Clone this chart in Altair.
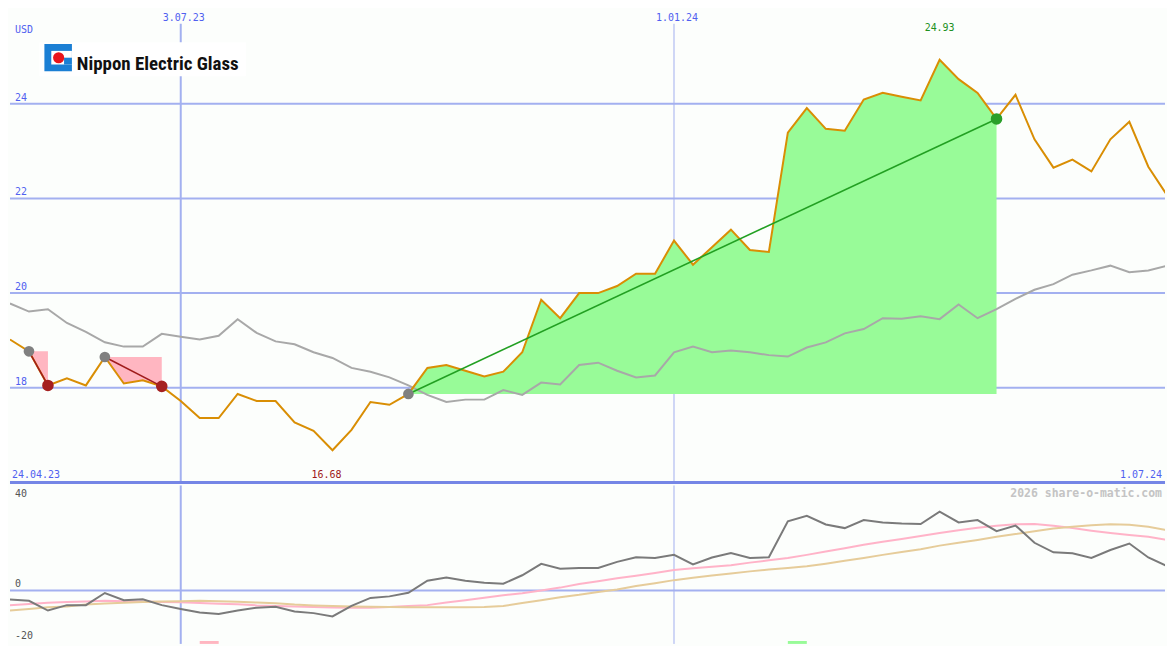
import altair as alt
import pandas as pd

# ---------------- data (weekly, Mondays from 1.05.23) ----------------
weeks = list(range(62))
price = [19.02, 18.77, 18.05, 18.20, 18.05, 18.65, 18.09, 18.16, 18.03, 17.72,
         17.36, 17.36, 17.87, 17.72, 17.72, 17.27, 17.09, 16.68, 17.11, 17.70,
         17.64, 17.87, 18.42, 18.48, 18.36, 18.24, 18.34, 18.75, 19.86, 19.47,
         20.00, 20.00, 20.15, 20.41, 20.41, 21.11, 20.60, 20.97, 21.34, 20.91,
         20.87, 23.39, 23.91, 23.47, 23.43, 24.09, 24.23, 24.15, 24.07, 24.93,
         24.52, 24.23, 23.68, 24.19, 23.25, 22.65, 22.82, 22.57, 23.25, 23.62,
         22.67, 22.06]
avg = [19.78, 19.61, 19.66, 19.37, 19.18, 18.96, 18.87, 18.87, 19.14, 19.08,
       19.02, 19.10, 19.45, 19.16, 18.98, 18.92, 18.75, 18.63, 18.42, 18.34,
       18.22, 18.05, 17.85, 17.70, 17.75, 17.75, 17.95, 17.85, 18.11, 18.07,
       18.48, 18.53, 18.36, 18.22, 18.26, 18.75, 18.87, 18.75, 18.79, 18.75,
       18.69, 18.66, 18.85, 18.96, 19.15, 19.24, 19.47, 19.46, 19.51, 19.45,
       19.76, 19.47, 19.66, 19.88, 20.07, 20.19, 20.39, 20.48, 20.58, 20.44,
       20.48, 20.58]
momentum = [-3.5, -4.0, -7.8, -5.7, -5.7, -1.0, -3.8, -3.4, -5.7, -7.2,
            -8.6, -9.1, -7.8, -6.7, -6.3, -8.2, -8.8, -10.1, -6.0, -2.9,
            -2.3, -0.9, 3.8, 5.0, 3.8, 3.0, 2.6, 5.9, 10.3, 8.4,
            8.7, 8.7, 11.1, 12.9, 12.6, 13.8, 10.1, 12.8, 14.5, 12.6,
            12.9, 26.8, 29.0, 25.6, 24.2, 27.3, 26.4, 26.0, 25.8, 30.6,
            26.4, 27.3, 23.0, 25.2, 18.5, 14.8, 14.4, 12.6, 15.7, 18.2,
            12.8, 9.4]
signal_fast = [-5.7, -5.3, -4.8, -4.5, -4.3, -4.0, -4.2, -4.3, -4.5, -4.6,
               -4.9, -5.2, -5.4, -5.8, -6.0, -6.2, -6.4, -6.6, -6.7, -6.7,
               -6.4, -6.0, -5.7, -4.7, -3.8, -2.8, -1.9, -1.1, 0.0, 1.1,
               2.5, 3.6, 4.7, 5.7, 6.8, 7.9, 8.6, 9.2, 9.8, 10.8,
               11.7, 12.6, 13.8, 15.1, 16.4, 17.7, 18.9, 20.0, 21.1, 22.3,
               23.4, 24.3, 25.1, 25.7, 25.8, 25.1, 24.2, 23.2, 22.3, 21.5,
               20.8, 19.6]
signal_slow = [-7.8, -7.2, -6.5, -6.2, -5.5, -5.1, -4.8, -4.5, -4.3, -4.2,
               -4.0, -4.2, -4.4, -4.7, -5.0, -5.5, -5.8, -6.0, -6.2, -6.3,
               -6.4, -6.5, -6.5, -6.5, -6.5, -6.4, -6.0, -4.9, -3.8, -2.6,
               -1.7, -0.6, 0.4, 1.7, 2.8, 4.0, 4.9, 5.8, 6.6, 7.4,
               8.1, 8.7, 9.4, 10.4, 11.5, 12.6, 13.8, 14.9, 16.0, 17.4,
               18.5, 19.6, 20.8, 21.9, 23.0, 24.0, 24.7, 25.3, 25.7, 25.5,
               24.7, 23.4]

trade_kind = ["loss", "loss", "gain"]
trade_entry = [1, 5, 21]
trade_exit = [2, 8, 52]

marker_kind = ["loss", "gain"]
marker_week = [10, 41]

date_labels = ["3.07.23", "1.01.24"]
date_weeks = [9, 35]
date_widths = [2, 1]
first_date = "24.04.23"
last_date = "1.07.24"
price_grid = [18, 20, 22, 24]
low_label = "16.68"
high_label = "24.93"
low_week = 17
high_week = 49

# ---------------- styles ----------------
FILL = {"loss": "#ffb6c1", "gain": "#98fb98"}
TRADE_LINE = {"loss": "#a01c1c", "gain": "#22a022"}
EXIT_DOT = {"loss": "#a52020", "gain": "#2a9f2a"}

W = 1159
SX = 1159 / 1175
SY = 634 / 650
H_TOP = 475
H_BOT = 159
X_MAX = 60.88
BG = "#fcfefc"
GRID = "#a3b0f0"
BORDER = "#7586e6"
LABEL = "#5060f0"
MONO = "DejaVu Sans Mono"

xs = alt.Scale(domain=[0, X_MAX], nice=False, zero=False)
ys_top = alt.Scale(domain=[16, 26], nice=False, zero=False)
ys_bot = alt.Scale(domain=[-20.75, 40.75], nice=False, zero=False)

X = lambda f="week": alt.X(f"{f}:Q", scale=xs, axis=None)
YT = lambda f: alt.Y(f"{f}:Q", scale=ys_top, axis=None)
YB = lambda f: alt.Y(f"{f}:Q", scale=ys_bot, axis=None)
C = lambda f: alt.Color(f"{f}:N", scale=None, legend=None)

df = pd.DataFrame({"week": weeks, "price": price, "avg": avg, "mom": momentum,
                   "fast": signal_fast, "slow": signal_slow})

area_rows, tl_rows, entry_rows, exit_rows = [], [], [], []
for t, (k, e, x) in enumerate(zip(trade_kind, trade_entry, trade_exit)):
    for w in range(e, x + 1):
        area_rows.append({"trade": t, "fill": FILL[k], "week": w, "price": price[w], "base": price[e]})
    tl_rows.append({"trade": t, "col": TRADE_LINE[k], "week": e, "price": price[e]})
    tl_rows.append({"trade": t, "col": TRADE_LINE[k], "week": x, "price": price[x]})
    entry_rows.append({"week": e, "price": price[e]})
    exit_rows.append({"col": EXIT_DOT[k], "week": x, "price": price[x]})
areas = pd.DataFrame(area_rows)
tlines = pd.DataFrame(tl_rows)
entries = pd.DataFrame(entry_rows)
exits = pd.DataFrame(exit_rows)
vlines = pd.DataFrame({"week": date_weeks, "w": date_widths, "label": date_labels})
grid = pd.DataFrame({"v": price_grid, "label": [str(v) for v in price_grid]})
one = pd.DataFrame({"a": [0]})

# ---------------- upper panel ----------------
grid_rules = alt.Chart(grid).mark_rule(color=GRID, strokeWidth=2).encode(y=YT("v"))
v_rules = alt.Chart(vlines).transform_calculate(y1="25.69", y2="16").mark_rule(color=GRID).encode(
    x=X(), y=YT("y1"), y2="y2:Q", strokeWidth=alt.StrokeWidth("w:Q", scale=None))
border = alt.Chart(one).mark_rule(color=BORDER, strokeWidth=3).encode(
    y=alt.value(H_TOP), x=alt.value(0), x2=alt.value(W))
logo_box = alt.Chart(one).mark_rect(color="#ffffff").encode(
    x=alt.value(30 * SX), x2=alt.value(240 * SX), y=alt.value(34 * SY), y2=alt.value(69 * SY))
logo_blue = alt.Chart(one).mark_rect(color="#1b7fd4").encode(
    x=alt.value(35 * SX), x2=alt.value(63 * SX), y=alt.value(36 * SY), y2=alt.value(64 * SY))
logo_white = alt.Chart(one).mark_rect(color="#ffffff").encode(
    x=alt.value(42 * SX), x2=alt.value(63 * SX), y=alt.value(43 * SY), y2=alt.value(57 * SY))
logo_notch = alt.Chart(one).mark_rect(color="#1b7fd4").encode(
    x=alt.value(55 * SX), x2=alt.value(63 * SX), y=alt.value(50 * SY), y2=alt.value(57 * SY))
logo_dot = alt.Chart(one).mark_circle(color="#e8141c", opacity=1, size=125).encode(
    x=alt.value(49.5 * SX), y=alt.value(50 * SY))
logo_text = alt.Chart(one).mark_text(
    text="Nippon Electric Glass", align="left", baseline="middle", fontSize=19, fontWeight="bold",
    font="Liberation Sans Narrow, Roboto Condensed, DejaVu Sans Condensed, sans-serif", color="#111111"
).encode(x=alt.value(68 * SX), y=alt.value(57 * SY))

area_layer = alt.Chart(areas).mark_area(opacity=1, interpolate="linear").encode(
    x=X(), y=YT("price"), y2="base:Q", detail="trade:N", color=C("fill"))
avg_line = alt.Chart(df).mark_line(color="#a8a8a8", strokeWidth=2, clip=True).encode(x=X(), y=YT("avg"))
price_line = alt.Chart(df).mark_line(color="#d98e04", strokeWidth=2, clip=True).encode(x=X(), y=YT("price"))
trade_lines = alt.Chart(tlines).mark_line(strokeWidth=1.6).encode(
    x=X(), y=YT("price"), detail="trade:N", color=C("col"))
entry_dots = alt.Chart(entries).mark_circle(color="#808080", opacity=1, size=115).encode(x=X(), y=YT("price"))
exit_dots = alt.Chart(exits).mark_circle(opacity=1, size=135).encode(x=X(), y=YT("price"), color=C("col"))

txt = dict(font=MONO, fontSize=10)
grid_text = alt.Chart(grid).mark_text(align="left", baseline="middle", dx=5, dy=-6, color=LABEL, **txt).encode(
    x=alt.value(0), y=YT("v"), text="label:N")
date_text = alt.Chart(vlines).transform_calculate(yy="25.815").mark_text(
    align="center", baseline="middle", dx=3, color=LABEL, **txt).encode(x=X(), y=YT("yy"), text="label:N")
usd_text = alt.Chart(one).transform_calculate(yy="25.55").mark_text(
    text="USD", align="left", baseline="middle", dx=5, color=LABEL, **txt).encode(x=alt.value(0), y=YT("yy"))
hi_text = alt.Chart(pd.DataFrame({"week": [high_week], "label": [high_label]})).transform_calculate(yy="25.59").mark_text(
    align="center", baseline="middle", color="#209020", **txt).encode(x=X(), y=YT("yy"), text="label:N")
lo_text = alt.Chart(pd.DataFrame({"week": [low_week], "label": [low_label]})).transform_calculate(yy="16.16").mark_text(
    align="center", baseline="middle", dx=-6, color="#a01818", **txt).encode(x=X(), y=YT("yy"), text="label:N")
first_text = alt.Chart(pd.DataFrame({"week": [0], "label": [first_date]})).transform_calculate(yy="16.16").mark_text(
    align="left", baseline="middle", dx=2, color=LABEL, **txt).encode(x=X(), y=YT("yy"), text="label:N")
last_text = alt.Chart(pd.DataFrame({"week": [X_MAX], "label": [last_date]})).transform_calculate(yy="16.16").mark_text(
    align="right", baseline="middle", dx=-3, color=LABEL, **txt).encode(x=X(), y=YT("yy"), text="label:N")

top = alt.layer(
    grid_rules, v_rules, logo_box, logo_blue, logo_white, logo_notch, logo_dot, logo_text,
    area_layer, avg_line, price_line, trade_lines, entry_dots, exit_dots,
    grid_text, date_text, usd_text, hi_text, lo_text, first_text, last_text, border,
).properties(width=W, height=H_TOP)

# ---------------- lower panel ----------------
zero_rule = alt.Chart(pd.DataFrame({"v": [0]})).mark_rule(color=GRID, strokeWidth=2).encode(y=YB("v"))
v_rules_b = alt.Chart(vlines).mark_rule(color=GRID).encode(
    x=X(), strokeWidth=alt.StrokeWidth("w:Q", scale=None))
fast_line = alt.Chart(df).mark_line(color="#ffb3c8", strokeWidth=2, clip=True).encode(x=X(), y=YB("fast"))
slow_line = alt.Chart(df).mark_line(color="#e6cc9a", strokeWidth=2, clip=True).encode(x=X(), y=YB("slow"))
mom_line = alt.Chart(df).mark_line(color="#7a7a7a", strokeWidth=2, clip=True).encode(x=X(), y=YB("mom"))
markers = alt.Chart(pd.DataFrame({"week": marker_week, "fill": [FILL[k] for k in marker_kind]})).transform_calculate(
    w2="datum.week + 1").mark_rect(opacity=1).encode(
    x=X(), x2="w2:Q", y=alt.value((647 - 487) * SY), y2=alt.value(H_BOT), color=C("fill"))
low_labels = alt.Chart(pd.DataFrame({"v": [0, -20], "label": ["0", "-20"]})).mark_text(
    align="left", baseline="middle", dx=5, dy=-6, color="#555555", **txt).encode(
    x=alt.value(0), y=YB("v"), text="label:N")
top_label = alt.Chart(pd.DataFrame({"v": [40], "label": ["40"]})).mark_text(
    align="left", baseline="middle", dx=5, dy=7, color="#555555", **txt).encode(
    x=alt.value(0), y=YB("v"), text="label:N")
watermark = alt.Chart(pd.DataFrame({"v": [40], "label": ["2026 share-o-matic.com"]})).mark_text(
    align="right", baseline="middle", dx=-3, dy=7, color="#c4c4c4", font=MONO, fontSize=11.5,
    fontWeight="bold").encode(x=alt.value(W), y=YB("v"), text="label:N")

bottom = alt.layer(
    zero_rule, v_rules_b, fast_line, slow_line, mom_line, markers, low_labels, top_label, watermark,
).properties(width=W, height=H_BOT)

chart = alt.vconcat(top, bottom, spacing=0).properties(
    padding=0, background=BG
).configure_view(stroke=None).configure_concat(spacing=0)

chart.save("out.html", embed_options={"renderer": "svg", "actions": False})
